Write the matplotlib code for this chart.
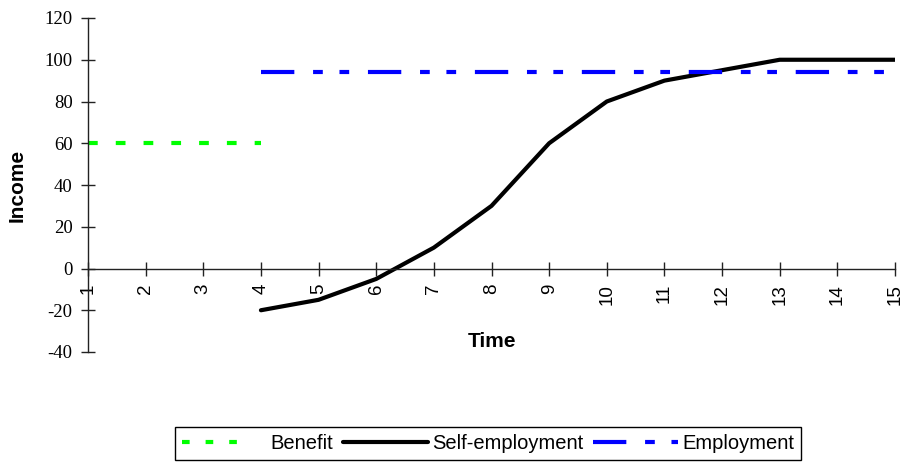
"""Income paths over time: benefit, self-employment and employment."""
import matplotlib
matplotlib.use("Agg")
import matplotlib.pyplot as plt
from matplotlib.font_manager import FontProperties

# Time periods on the category axis
periods = list(range(1, 16))

# Income by series, each over the periods where it applies
benefit_t = [1, 2, 3, 4]
benefit = [60, 60, 60, 60]

self_emp_t = [4, 5, 6, 7, 8, 9, 10, 11, 12, 13, 14, 15]
self_emp = [-20, -15, -5, 10, 30, 60, 80, 90, 95, 100, 100, 100]

employment_t = [4, 5, 6, 7, 8, 9, 10, 11, 12, 13, 14, 15]
employment = [94] * 12

y_ticks = [-40, -20, 0, 20, 40, 60, 80, 100, 120]

plt.rcParams["lines.scale_dashes"] = False

sans = FontProperties(family="Liberation Sans", size=13.5)
serif = FontProperties(family="Liberation Serif", size=13.5)
bold = FontProperties(family="Liberation Sans", weight="bold", size=15)

fig = plt.figure(figsize=(9.06, 4.62), dpi=100)
ax = fig.add_axes([88 / 906, 1 - 352 / 462, (895 - 88) / 906, (352 - 18) / 462])

ax.plot(benefit_t, benefit, color="#00FF00", lw=3,
        dashes=(7, 13), label="Benefit")
ax.plot(self_emp_t, self_emp, color="black", lw=3, label="Self-employment",
        solid_joinstyle="round", solid_capstyle="round")
ax.plot(employment_t, employment, color="#0000FF", lw=3,
        dashes=(24, 13.5, 7, 12, 7, 13.5), label="Employment")

ax.set_xlim(1, 15)
ax.set_ylim(-40, 120)

# Excel-style axes: x axis sits at zero, only the left spine shown
ax.spines["top"].set_visible(False)
ax.spines["right"].set_visible(False)
ax.spines["bottom"].set_position(("data", 0))
for side in ("left", "bottom"):
    ax.spines[side].set_color("#222222")
    ax.spines[side].set_linewidth(1)

ax.set_xticks(periods)
ax.set_xticklabels([str(p) for p in periods], rotation=90)
ax.set_yticks(y_ticks)
ax.set_yticklabels([str(v) for v in y_ticks])
ax.tick_params(axis="both", direction="inout", length=10, width=1,
               color="#222222", pad=6)
for lbl in ax.get_xticklabels():
    lbl.set_fontproperties(sans)
for lbl in ax.get_yticklabels():
    lbl.set_fontproperties(serif)

ax.set_xlabel("Time", fontproperties=bold)
ax.xaxis.set_label_coords(0.5, 0.03)
ax.xaxis.label.set_va("center")
ax.set_ylabel("Income", fontproperties=bold)
ax.yaxis.set_label_coords(-0.088, 0.5)
ax.yaxis.label.set_va("center")

leg = ax.legend(loc="upper left", bbox_to_anchor=(175 / 906, 1 - 427 / 462),
                bbox_transform=fig.transFigure, ncol=3, frameon=True,
                fancybox=False, edgecolor="black", framealpha=1,
                borderaxespad=0, borderpad=0.35, handlelength=4.2,
                handletextpad=0.2, columnspacing=0.5,
                prop={"family": "Liberation Sans", "size": 14.5})
leg.get_frame().set_linewidth(1)
# three short dashes in the Benefit key, leaving a gap before its text
leg.get_lines()[0].set_dashes((5.5, 11.5, 5.5, 11.5, 5.5, 30))

fig.savefig("out.png", dpi=100)
